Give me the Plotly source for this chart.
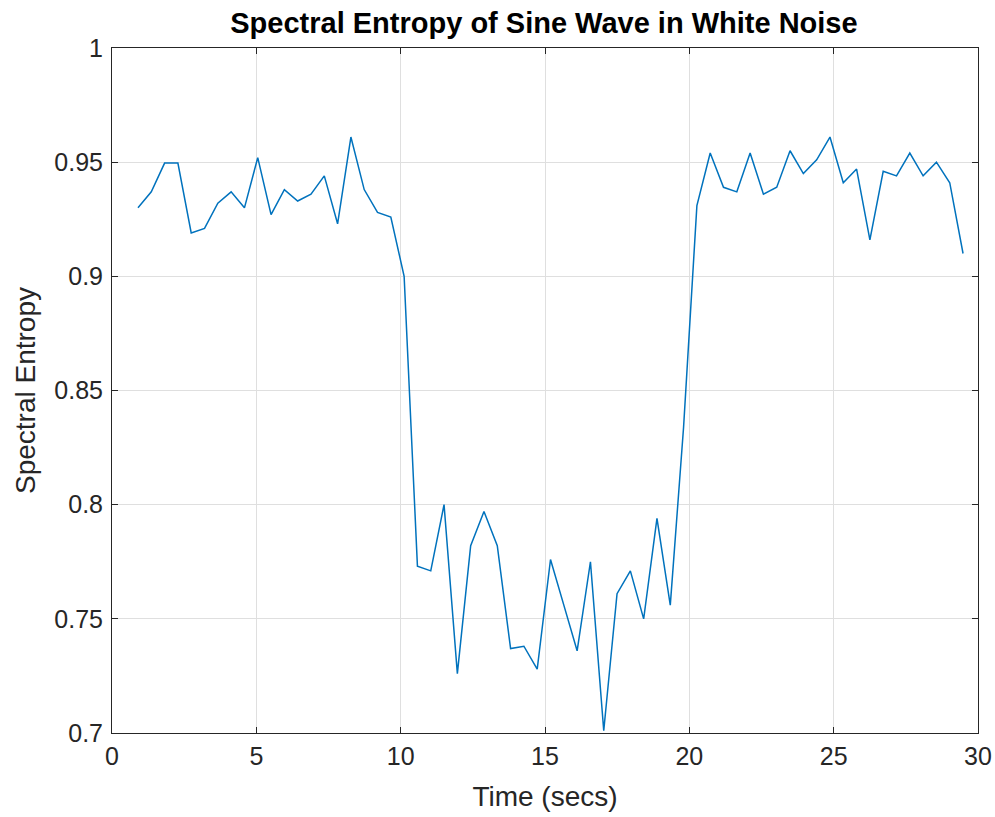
import plotly.graph_objects as go

time_secs = [0.900, 1.361, 1.822, 2.283, 2.744, 3.205, 3.666, 4.127, 4.588, 5.049,
             5.510, 5.971, 6.432, 6.893, 7.354, 7.815, 8.276, 8.737, 9.198, 9.659,
             10.120, 10.581, 11.042, 11.503, 11.964, 12.425, 12.886, 13.347, 13.808, 14.269,
             14.730, 15.191, 15.652, 16.113, 16.574, 17.035, 17.496, 17.957, 18.418, 18.879,
             19.340, 19.801, 20.262, 20.723, 21.184, 21.645, 22.106, 22.567, 23.028, 23.489,
             23.950, 24.411, 24.872, 25.333, 25.794, 26.255, 26.716, 27.177, 27.638, 28.099,
             28.560, 29.021, 29.482]

spectral_entropy = [0.930, 0.937, 0.9496, 0.9496, 0.919, 0.921, 0.932, 0.937, 0.930, 0.952,
                    0.927, 0.938, 0.933, 0.936, 0.944, 0.923, 0.961, 0.938, 0.928, 0.926,
                    0.900, 0.773, 0.771, 0.800, 0.726, 0.782, 0.797, 0.782, 0.737, 0.738,
                    0.728, 0.776, 0.756, 0.736, 0.775, 0.701, 0.761, 0.771, 0.750, 0.794,
                    0.756, 0.834, 0.931, 0.954, 0.939, 0.937, 0.954, 0.936, 0.939, 0.955,
                    0.945, 0.951, 0.961, 0.941, 0.947, 0.916, 0.946, 0.944, 0.954, 0.944,
                    0.950, 0.941, 0.910]

x_ticks = [0, 5, 10, 15, 20, 25, 30]
x_tick_labels = ["0", "5", "10", "15", "20", "25", "30"]
y_ticks = [0.7, 0.75, 0.8, 0.85, 0.9, 0.95, 1.0]
y_tick_labels = ["0.7", "0.75", "0.8", "0.85", "0.9", "0.95", "1"]

FONT = "Liberation Sans, Arial, Helvetica, sans-serif"
AXC = "#262626"

fig = go.Figure()
fig.add_trace(go.Scatter(
    x=time_secs, y=spectral_entropy, mode="lines",
    line=dict(color="#0072BD", width=1.5),
    showlegend=False, hoverinfo="x+y",
))

axis_common = dict(
    showline=True, linecolor=AXC, linewidth=1, mirror="ticks",
    ticks="inside", ticklen=6, tickwidth=1, tickcolor=AXC,
    showgrid=True, gridcolor="#dfdfdf", gridwidth=1, zeroline=False,
    tickfont=dict(family=FONT, size=25, color=AXC),
    automargin=False,
)

fig.update_layout(
    width=995, height=817,
    margin=dict(l=112, r=17, t=48, b=84, pad=0),
    paper_bgcolor="white", plot_bgcolor="white",
    title=dict(text="<b>Spectral Entropy of Sine Wave in White Noise</b>",
               x=0.5467, xanchor="center", y=0.9718, yanchor="middle",
               font=dict(family=FONT, size=29, color="#000000")),
    xaxis=dict(range=[0, 30], tickvals=x_ticks, ticktext=x_tick_labels,
               title=dict(text="Time (secs)", font=dict(family=FONT, size=28, color=AXC), standoff=17),
               ticklabelstandoff=1,
               **axis_common),
    yaxis=dict(range=[0.7, 1.0], tickvals=y_ticks, ticktext=y_tick_labels,
               title=dict(text="Spectral Entropy", font=dict(family=FONT, size=28, color=AXC), standoff=10),
               ticklabelstandoff=3,
               **axis_common),
)

fig.write_html(
    "out.html",
    config={"displayModeBar": False},
    post_script="document.body.style.margin='0';document.body.style.overflow='hidden';",
)
